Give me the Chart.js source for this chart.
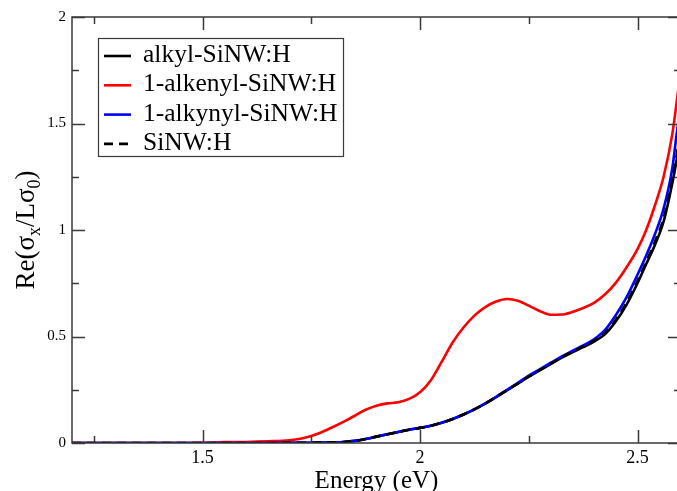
<!DOCTYPE html>
<html>
<head>
<meta charset="utf-8">
<script src="https://cdn.jsdelivr.net/npm/chart.js@4/dist/chart.umd.min.js"></script>
<style>
  html, body { margin: 0; padding: 0; background: #fff; overflow: hidden; }
  #wrap { width: 690px; height: 491px; }
</style>
</head>
<body>
<div id="wrap"><canvas id="spectrum" width="690" height="491"></canvas></div>
<script>
"use strict";

// photon energy grid (eV)
const energy = [1.2, 1.25, 1.3, 1.35, 1.4, 1.45, 1.5, 1.55, 1.6, 1.65, 1.7,
    1.725, 1.75, 1.775, 1.8, 1.825, 1.85, 1.875, 1.9, 1.925, 1.95, 1.975, 2.0,
    2.025, 2.05, 2.075, 2.1, 2.125, 2.15, 2.175, 2.2, 2.225, 2.25, 2.275, 2.3,
    2.325, 2.35, 2.375, 2.4, 2.425, 2.45, 2.475, 2.5, 2.52, 2.54, 2.56, 2.58, 2.59, 2.6];

// Re(sigma_x / L sigma_0) per termination
const alkyl = [0, 0, 0, 0, 0, 0, 0, 0, 0, 0, 0.001,
    0.001, 0.001, 0.002, 0.003, 0.005, 0.01, 0.019, 0.03, 0.041, 0.052, 0.062, 0.071,
    0.081, 0.095, 0.113, 0.134, 0.158, 0.185, 0.215, 0.247, 0.279, 0.311, 0.341, 0.37,
    0.4, 0.426, 0.45, 0.476, 0.51, 0.57, 0.65, 0.75, 0.84, 0.93, 1.04, 1.22, 1.33, 1.47];

const alkenyl = [0, 0, 0, 0, 0, 0, 0.001, 0.004, 0.005, 0.008, 0.013,
    0.02, 0.033, 0.052, 0.075, 0.1, 0.128, 0.156, 0.175, 0.186, 0.191, 0.207, 0.238,
    0.295, 0.382, 0.472, 0.542, 0.598, 0.638, 0.664, 0.676, 0.668, 0.645, 0.62, 0.602,
    0.603, 0.615, 0.634, 0.658, 0.697, 0.752, 0.825, 0.91, 1.0, 1.115, 1.25, 1.45, 1.6, 1.76];

const alkynyl = [0, 0, 0, 0, 0, 0, 0, 0, 0, 0, 0.001,
    0.001, 0.001, 0.002, 0.003, 0.005, 0.01, 0.019, 0.03, 0.041, 0.052, 0.062, 0.071,
    0.081, 0.095, 0.113, 0.134, 0.158, 0.186, 0.217, 0.25, 0.283, 0.316, 0.346, 0.376,
    0.406, 0.432, 0.458, 0.487, 0.53, 0.6, 0.685, 0.79, 0.88, 0.98, 1.1, 1.29, 1.45, 1.6];

const bare = [0, 0, 0, 0, 0, 0, 0, 0, 0, 0, 0.001,
    0.001, 0.001, 0.002, 0.003, 0.005, 0.01, 0.019, 0.03, 0.041, 0.052, 0.062, 0.071,
    0.081, 0.095, 0.113, 0.134, 0.158, 0.185, 0.216, 0.248, 0.28, 0.312, 0.342, 0.372,
    0.402, 0.428, 0.453, 0.48, 0.515, 0.578, 0.66, 0.76, 0.85, 0.945, 1.055, 1.235, 1.35, 1.49];

const seriesLabels = ["alkyl-SiNW:H", "1-alkenyl-SiNW:H", "1-alkynyl-SiNW:H", "SiNW:H"];

const xMajorTicks = [1.5, 2, 2.5];
const xMinorTicks = [1.25, 1.75, 2.25];
const yMajorTicks = [0, 0.5, 1, 1.5, 2];
const yMinorTicks = [0.25, 0.75, 1.25, 1.75];

const SERIF = '"Liberation Serif", "Times New Roman", serif';
const AXIS_COLOR = "#3a3a3a";

function points(ys) {
    return energy.map((x, i) => ({ x: x, y: ys[i] }));
}

function line(label, ys, color, order, dash) {
    return {
        label: label,
        data: points(ys),
        borderColor: color,
        backgroundColor: color,
        borderWidth: 2.6,
        borderDash: dash || [],
        pointRadius: 0,
        cubicInterpolationMode: "monotone",
        fill: false,
        order: order
    };
}

// frame with inward ticks on all four sides
const frame = {
    id: "frame",
    afterDatasetsDraw(chart) {
        const { ctx, chartArea: a, scales: { x, y } } = chart;
        ctx.save();
        ctx.strokeStyle = AXIS_COLOR;
        ctx.lineWidth = 1.5;
        ctx.beginPath();
        const tick = (vals, len) => {
            vals.forEach(v => {
                const px = Math.round(x.getPixelForValue(v)) + 0.5;
                ctx.moveTo(px, a.bottom); ctx.lineTo(px, a.bottom - len);
                ctx.moveTo(px, a.top); ctx.lineTo(px, a.top + len);
            });
        };
        const ytick = (vals, len) => {
            vals.forEach(v => {
                const py = Math.round(y.getPixelForValue(v)) + 0.5;
                ctx.moveTo(a.left, py); ctx.lineTo(a.left + len, py);
                ctx.moveTo(a.right, py); ctx.lineTo(a.right - len, py);
            });
        };
        tick(xMajorTicks, 13);
        tick(xMinorTicks, 7);
        ytick(yMajorTicks, 13);
        ytick(yMinorTicks, 7);
        ctx.stroke();
        ctx.strokeRect(a.left, a.top, a.right - a.left, a.bottom - a.top);
        ctx.restore();
    }
};

// axis titles, the y one carries subscripts
const titles = {
    id: "titles",
    afterDraw(chart) {
        const { ctx, chartArea: a } = chart;
        ctx.save();
        ctx.fillStyle = "#000";
        ctx.font = "25px " + SERIF;
        ctx.textAlign = "center";
        ctx.textBaseline = "alphabetic";
        ctx.fillText("Energy (eV)", (a.left + a.right) / 2, 488);

        const parts = [
            ["Re(\u03c3", 27, 0], ["x", 18, 6], ["/L\u03c3", 27, 0], ["0", 18, 6], [")", 27, 0]
        ];
        let total = 0;
        parts.forEach(p => { ctx.font = p[1] + "px " + SERIF; total += ctx.measureText(p[0]).width; });
        ctx.translate(34, (a.top + a.bottom) / 2);
        ctx.rotate(-Math.PI / 2);
        ctx.textAlign = "left";
        let cx = -total / 2;
        parts.forEach(p => {
            ctx.font = p[1] + "px " + SERIF;
            ctx.fillText(p[0], cx, p[2]);
            cx += ctx.measureText(p[0]).width;
        });
        ctx.restore();
    }
};

// boxed legend inside the plot
const boxLegend = {
    id: "boxLegend",
    afterDraw(chart) {
        const ctx = chart.ctx;
        const left = 98, top = 38, w = 245, h = 118;
        ctx.save();
        ctx.fillStyle = "#fff";
        ctx.fillRect(left, top, w, h);
        ctx.strokeStyle = AXIS_COLOR;
        ctx.lineWidth = 1.2;
        ctx.strokeRect(left + 0.5, top + 0.5, w, h);
        ctx.font = "25.5px " + SERIF;
        ctx.textBaseline = "alphabetic";
        ctx.textAlign = "left";
        chart.data.datasets.forEach((ds, i) => {
            const base = 62 + i * 29.3;
            ctx.strokeStyle = ds.borderColor;
            ctx.lineWidth = 2.6;
            ctx.setLineDash(ds.borderDash || []);
            ctx.beginPath();
            ctx.moveTo(104, base - 6);
            ctx.lineTo(131, base - 6);
            ctx.stroke();
            ctx.setLineDash([]);
            ctx.fillStyle = "#000";
            ctx.fillText(ds.label, 143, base);
        });
        ctx.restore();
    }
};

new Chart(document.getElementById("spectrum").getContext("2d"), {
    type: "line",
    data: {
        datasets: [
            line(seriesLabels[0], alkyl, "#000000", 4),
            line(seriesLabels[1], alkenyl, "#ff0000", 3),
            line(seriesLabels[2], alkynyl, "#0000ff", 2),
            line(seriesLabels[3], bare, "#000000", 1, [9, 6])
        ]
    },
    options: {
        responsive: false,
        devicePixelRatio: 1,
        animation: false,
        layout: { padding: { top: 17, right: 9, left: 0, bottom: 0 } },
        plugins: {
            legend: { display: false },
            tooltip: { enabled: false }
        },
        scales: {
            x: {
                type: "linear",
                min: 1.2,
                max: 2.6,
                grid: { display: false, drawTicks: false },
                border: { display: false },
                afterBuildTicks: (s) => { s.ticks = xMajorTicks.map(v => ({ value: v })); },
                afterFit: (s) => { s.height = 48; },
                ticks: {
                    padding: 4,
                    maxRotation: 0,
                    color: "#000",
                    font: { family: SERIF, size: 18 },
                    callback: (v) => String(v)
                }
            },
            y: {
                type: "linear",
                min: 0,
                max: 2,
                grid: { display: false, drawTicks: false },
                border: { display: false },
                afterBuildTicks: (s) => { s.ticks = yMajorTicks.map(v => ({ value: v })); },
                afterFit: (s) => { s.width = 72; },
                ticks: {
                    padding: 6,
                    color: "#000",
                    font: { family: SERIF, size: 15 },
                    callback: (v) => String(v)
                }
            }
        }
    },
    plugins: [frame, titles, boxLegend]
});
</script>
</body>
</html>
